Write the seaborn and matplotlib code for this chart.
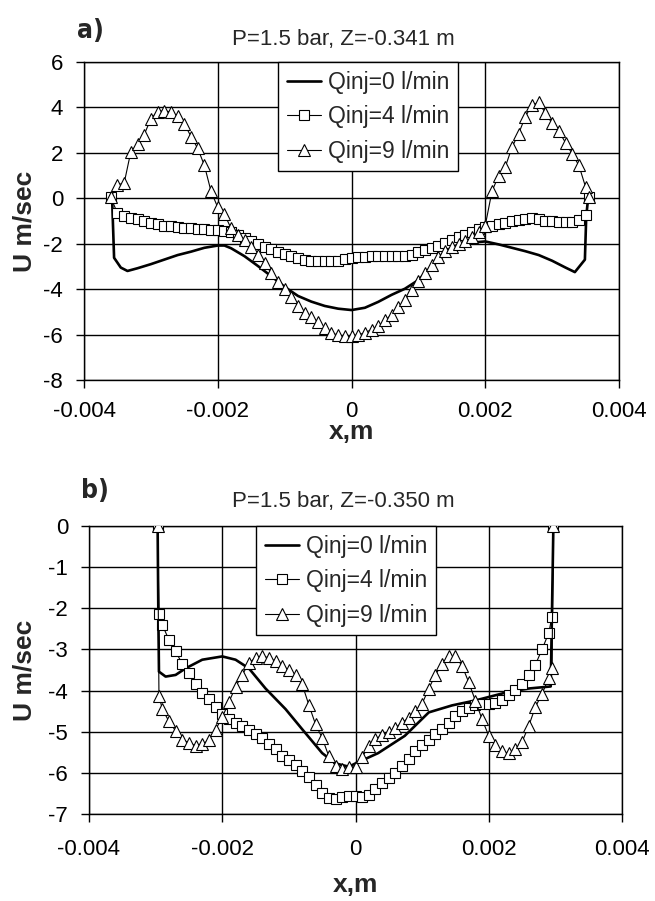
import matplotlib
matplotlib.use("Agg")
import matplotlib.pyplot as plt
import seaborn as sns

X_UNIT = 1e-4  # positions below are read in units of 0.1 mm

# ---------------- panel a) ----------------
x_a = [-36, -35, -34, -33, -32, -31, -30, -29, -28, -27,
       -26, -25, -24, -23, -22, -21, -20, -19, -18, -17,
       -16, -15, -14, -13, -12, -11, -10, -9, -8, -7,
       -6, -5, -4, -3, -2, -1, 0, 1, 2, 3,
       4, 5, 6, 7, 8, 9, 10, 11, 12, 13,
       14, 15, 16, 17, 18, 19, 20, 21, 22, 23,
       24, 25, 26, 27, 28, 29, 30, 31, 32, 33,
       34, 35, 35.5]
u4_a = [0.05, -0.66, -0.8, -0.86, -0.93, -1.0, -1.08, -1.15, -1.2, -1.24,
        -1.27, -1.3, -1.32, -1.34, -1.36, -1.38, -1.4, -1.45, -1.5, -1.6,
        -1.75, -1.9, -2.02, -2.14, -2.25, -2.35, -2.45, -2.55, -2.62, -2.7,
        -2.76, -2.78, -2.78, -2.77, -2.74, -2.68, -2.62, -2.6, -2.58, -2.56,
        -2.55, -2.55, -2.55, -2.55, -2.54, -2.48, -2.38, -2.28, -2.18, -2.08,
        -1.97, -1.85, -1.72, -1.6, -1.48, -1.37, -1.28, -1.2, -1.14, -1.09,
        -1.02, -0.96, -0.9, -0.87, -0.92, -0.98, -1.02, -1.04, -1.05, -1.05,
        -0.95, -0.75, 0.05]
u9_a = [0.05, 0.6, 0.66, 2.05, 2.37, 2.8, 3.5, 3.82, 3.85, 3.8,
        3.62, 3.28, 2.72, 2.2, 1.45, 0.3, -0.4, -0.7, -1.33, -1.6,
        -1.82, -2.15, -2.5, -2.85, -3.3, -3.68, -4.0, -4.33, -4.75, -5.03,
        -5.23, -5.45, -5.72, -5.92, -6.03, -6.06, -6.06, -6.02, -5.92, -5.78,
        -5.63, -5.38, -5.12, -4.8, -4.48, -4.05, -3.62, -3.3, -2.95, -2.58,
        -2.3, -2.13, -2.0, -1.9, -1.72, -1.5, -1.2, 0.3, 1.0, 1.38,
        2.25, 2.85, 3.6, 4.1, 4.22, 3.75, 3.3, 2.95, 2.45, 1.95,
        1.45, 0.5, 0.05]
xk_a = [-35.8, -35.5, -34.5, -33.5, -32, -30, -28, -26, -24, -22,
        -20, -19, -18, -16, -14, -12, -10, -8, -6, -4,
        -2, 0, 2, 4, 6, 8, 10, 12, 14, 16,
        18, 20, 22, 24, 26, 28, 30, 32, 33.4, 34.9,
        35.1, 35.4]
uk_a = [0.0, -2.62, -3.05, -3.2, -3.08, -2.9, -2.7, -2.5, -2.35, -2.18,
        -2.08, -2.08, -2.2, -2.55, -2.98, -3.43, -3.9, -4.3, -4.55, -4.74,
        -4.86, -4.92, -4.82, -4.56, -4.25, -3.98, -3.6, -3.0, -2.48, -2.12,
        -1.95, -1.9, -2.03, -2.18, -2.33, -2.5, -2.75, -3.05, -3.25, -2.7,
        -0.8, 0.05]

# ---------------- panel b) ----------------
x_b = [-29.7, -29.5,
       -29, -28, -27, -26, -25, -24, -23, -22, -21, -20,
       -19, -18, -17, -16, -15, -14, -13, -12, -11, -10,
       -9, -8, -7, -6, -5, -4, -3, -2, -1, 0,
       1, 2, 3, 4, 5, 6, 7, 8, 9, 10,
       11, 12, 13, 14, 15, 16, 17, 18, 19, 20,
       21, 22, 23, 24, 25, 26, 27, 28, 29,
       29.5, 29.7]
u4_b = [0.0, -2.14,
        -2.4, -2.77, -3.05, -3.35, -3.58, -3.83, -4.05, -4.2, -4.4, -4.57,
        -4.7, -4.78, -4.86, -4.96, -5.05, -5.15, -5.3, -5.43, -5.58, -5.68,
        -5.82, -5.95, -6.1, -6.3, -6.5, -6.6, -6.63, -6.58, -6.56, -6.57,
        -6.59, -6.55, -6.4, -6.25, -6.12, -6.0, -5.83, -5.67, -5.48, -5.33,
        -5.19, -5.06, -4.94, -4.78, -4.62, -4.5, -4.42, -4.36, -4.32, -4.32,
        -4.3, -4.22, -4.1, -3.99, -3.83, -3.62, -3.37, -3.0, -2.6,
        -2.2, 0.0]
u9_b = [0.0, -4.12,
        -4.45, -4.75, -4.98, -5.19, -5.27, -5.34, -5.31, -5.2, -4.95, -4.65,
        -4.28, -3.91, -3.62, -3.33, -3.2, -3.17, -3.2, -3.29, -3.4, -3.5,
        -3.63, -3.85, -4.35, -4.82, -5.15, -5.6, -5.83, -5.9, -5.86, -5.85,
        -5.62, -5.35, -5.18, -5.08, -5.0, -4.9, -4.78, -4.66, -4.5, -4.32,
        -3.95, -3.62, -3.35, -3.17, -3.17, -3.4, -3.8, -4.25, -4.7, -5.1,
        -5.32, -5.48, -5.52, -5.42, -5.25, -4.86, -4.4, -4.08, -3.7,
        -3.45, 0.0]
xk_b = [-29.7, -29.6, -29.5, -28.5, -27, -25.5, -23, -20, -18, -16,
        -13.5, -10.5, -8, -5, -3, -1, 0, 3.4, 7.4, 11,
        14.5, 18, 23, 26, 29.3, 29.5, 29.7]
uk_b = [0.0, -2.0, -3.54, -3.66, -3.62, -3.46, -3.25, -3.17, -3.25, -3.46,
        -3.95, -4.45, -4.94, -5.52, -5.77, -5.85, -5.77, -5.52, -5.1, -4.53,
        -4.36, -4.24, -4.03, -3.95, -3.9, -2.0, 0.0]

series_labels = ["Qinj=0 l/min", "Qinj=4 l/min", "Qinj=9 l/min"]
titles = ["P=1.5 bar, Z=-0.341 m", "P=1.5 bar, Z=-0.350 m"]
tags = ["a)", "b)"]
xticks = [-0.004, -0.002, 0, 0.002, 0.004]
xtick_labels = ["-0.004", "-0.002", "0", "0.002", "0.004"]
yticks_a = [6, 4, 2, 0, -2, -4, -6, -8]
yticks_b = [0, -1, -2, -3, -4, -5, -6, -7]
xlabel = "x,m"
ylabel = "U m/sec"

sns.set_style("ticks")
plt.rcParams['font.family'] = ['Liberation Sans', 'DejaVu Sans']
plt.rcParams['axes.unicode_minus'] = False

W, H = 655, 901
fig = plt.figure(figsize=(W / 100, H / 100), dpi=100)


def box(l, t, r, b):
    return [l / W, 1 - b / H, (r - l) / W, (b - t) / H]


ax_a = fig.add_axes(box(84, 62, 619, 380))
ax_b = fig.add_axes(box(89, 526, 622, 814))


def draw(ax, xk, uk, xm, u4, u9, yticks, leg_x, ylab_x, xlab_y, xpad):
    sns.lineplot(x=[v * X_UNIT for v in xk], y=uk, ax=ax, color='black',
                 linewidth=1.9, label=series_labels[0], estimator=None,
                 sort=False, zorder=3)
    sns.lineplot(x=[v * X_UNIT for v in xm], y=u4, ax=ax, color='black',
                 linewidth=0.8, marker='s', markersize=7,
                 markerfacecolor='white', markeredgecolor='black',
                 markeredgewidth=0.8, label=series_labels[1],
                 estimator=None, sort=False, zorder=4)
    sns.lineplot(x=[v * X_UNIT for v in xm], y=u9, ax=ax, color='black',
                 linewidth=0.8, marker='^', markersize=8,
                 markerfacecolor='white', markeredgecolor='black',
                 markeredgewidth=0.8, label=series_labels[2],
                 estimator=None, sort=False, zorder=5)
    ax.set_xlim(xticks[0], xticks[-1])
    ax.set_ylim(min(yticks), max(yticks))
    ax.set_xticks(xticks)
    ax.set_xticklabels(xtick_labels)
    ax.set_yticks(yticks)
    ax.set_yticklabels([str(v) for v in yticks])
    ax.grid(True, color='black', linewidth=1.0)
    ax.set_axisbelow(True)
    for s in ax.spines.values():
        s.set_color('black')
        s.set_linewidth(1.0)
    ax.tick_params(direction='out', length=6, width=1, color='black',
                   labelsize=16, pad=9, labelcolor='black')
    ax.tick_params(axis='x', pad=xpad)
    ax.set_xlabel(xlabel, fontsize=19, fontweight='bold', va='center')
    ax.xaxis.set_label_coords(0.5, xlab_y)
    ax.set_ylabel(ylabel, fontsize=19, fontweight='bold', va='center')
    ax.yaxis.set_label_coords(ylab_x, 0.5)
    leg = ax.legend(loc='upper left', bbox_to_anchor=(leg_x, 1.0),
                    borderaxespad=0, fontsize=16.5, frameon=True,
                    fancybox=False, framealpha=1, edgecolor='black',
                    handlelength=1.5, handletextpad=0.3, labelspacing=0.5,
                    borderpad=0.38)
    leg.get_frame().set_linewidth(1.0)
    leg.set_zorder(10)


draw(ax_a, xk_a, uk_a, x_a, u4_a, u9_a, yticks_a, 0.3626, -0.112, -0.1635, 9)
draw(ax_b, xk_b, uk_b, x_b, u4_b, u9_b, yticks_b, 0.3133, -0.121, -0.248, 12)

fig.text(343 / W, 1 - 39 / H, titles[0], ha='center', va='center', fontsize=16)
fig.text(90 / W, 1 - 31 / H, tags[0], ha='center', va='center', fontsize=19,
         fontweight='bold', family='DejaVu Sans', fontstretch='condensed')
fig.text(343 / W, 1 - 502 / H, titles[1], ha='center', va='center', fontsize=16)
fig.text(95 / W, 1 - 491 / H, tags[1], ha='center', va='center', fontsize=19,
         fontweight='bold', family='DejaVu Sans', fontstretch='condensed')

fig.savefig("out.png", dpi=100)
